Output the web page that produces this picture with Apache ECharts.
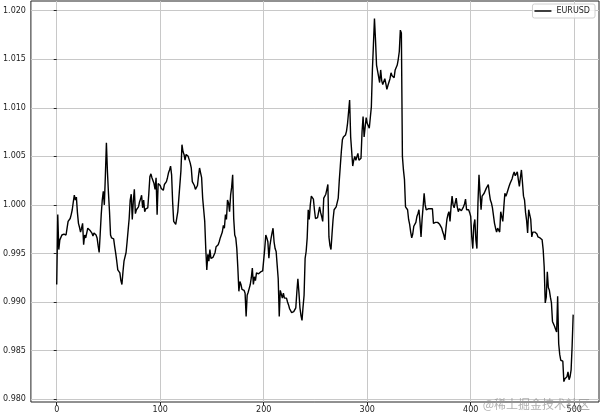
<!DOCTYPE html>
<html>
<head>
<meta charset="utf-8">
<script src="https://cdn.jsdelivr.net/npm/echarts@6/dist/echarts.min.js"></script>
<style>html,body{margin:0;padding:0;background:#fff}#c{width:600px;height:414px}</style>
</head>
<body>
<div id="c"></div>
<script>
const seriesName = 'EURUSD';
const eurusd = [
0.9918,0.9990,0.9954,0.9964,0.9962,0.9969,0.9967,0.9970,0.9971,0.9969,
0.9976,0.9983,0.9984,0.9986,0.9990,0.9995,1.0003,1.0010,1.0005,1.0008,
0.9992,0.9981,0.9977,0.9972,0.9976,0.9981,0.9959,0.9969,0.9966,0.9964,
0.9976,0.9975,0.9974,0.9973,0.9971,0.9968,0.9971,0.9970,0.9969,0.9966,
0.9958,0.9951,0.9970,0.9990,1.0005,1.0014,1.0000,1.0030,1.0064,1.0034,
1.0012,0.9993,0.9969,0.9966,0.9964,0.9965,0.9957,0.9950,0.9942,0.9933,
0.9932,0.9930,0.9922,0.9918,0.9931,0.9942,0.9940,0.9951,0.9962,0.9974,
0.9986,1.0005,1.0011,0.9985,1.0004,1.0016,0.9991,0.9995,0.9996,0.9998,
1.0003,1.0006,1.0010,0.9997,1.0005,0.9993,0.9996,0.9995,0.9997,1.0012,
1.0029,1.0032,1.0028,1.0030,1.0022,1.0016,1.0028,0.9990,1.0022,1.0021,
1.0020,1.0017,1.0016,1.0015,1.0021,1.0022,1.0024,1.0028,1.0033,1.0036,
1.0040,1.0031,1.0003,0.9983,0.9981,0.9980,0.9980,0.9993,1.0007,1.0008,
1.0035,1.0062,1.0055,1.0052,1.0046,1.0052,1.0053,1.0050,1.0048,1.0043,
1.0038,1.0024,1.0024,1.0020,1.0016,1.0018,1.0020,1.0030,1.0038,1.0033,
1.0028,1.0007,0.9995,0.9983,0.9955,0.9933,0.9949,0.9942,0.9954,0.9945,
0.9945,0.9946,0.9946,0.9951,0.9957,0.9958,0.9959,0.9962,0.9966,0.9969,
0.9972,0.9979,0.9976,0.9990,0.9985,1.0005,1.0002,0.9993,1.0010,1.0018,
1.0031,0.9986,0.9969,0.9966,0.9955,0.9935,0.9911,0.9921,0.9918,0.9913,
0.9915,0.9912,0.9909,0.9885,0.9907,0.9910,0.9914,0.9918,0.9925,0.9935,
0.9918,0.9926,0.9922,0.9930,0.9930,0.9929,0.9931,0.9931,0.9931,0.9932,
0.9932,0.9955,0.9969,0.9966,0.9962,0.9945,0.9958,0.9965,0.9971,0.9976,
0.9962,0.9955,0.9952,0.9938,0.9924,0.9885,0.9912,0.9908,0.9904,0.9909,
0.9904,0.9906,0.9904,0.9900,0.9897,0.9893,0.9891,0.9889,0.9887,0.9890,
0.9892,0.9894,0.9910,0.9924,0.9910,0.9894,0.9886,0.9881,0.9895,0.9907,
0.9945,0.9952,0.9966,0.9995,0.9985,1.0000,1.0009,1.0007,1.0006,0.9995,
0.9986,0.9986,0.9987,0.9987,0.9998,0.9992,0.9988,0.9983,1.0007,1.0009,
1.0011,1.0016,1.0021,0.9967,0.9958,0.9954,0.9970,0.9985,0.9995,0.9997,
0.9998,0.9998,1.0007,1.0025,1.0040,1.0055,1.0067,1.0070,1.0071,1.0072,
1.0076,1.0084,1.0096,1.0108,1.0070,1.0055,1.0040,1.0046,1.0050,1.0046,
1.0045,1.0053,1.0046,1.0047,1.0048,1.0075,1.0091,1.0070,1.0080,1.0090,
1.0084,1.0082,1.0079,1.0090,1.0101,1.0139,1.0165,1.0192,1.0170,1.0144,
1.0143,1.0132,1.0126,1.0139,1.0128,1.0124,1.0122,1.0130,1.0125,1.0119,
1.0123,1.0125,1.0130,1.0136,1.0133,1.0132,1.0131,1.0139,1.0141,1.0144,
1.0150,1.0158,1.0180,1.0177,1.0050,1.0036,1.0026,0.9998,0.9999,0.9995,
0.9985,0.9980,0.9972,0.9966,0.9970,0.9978,0.9978,0.9982,0.9988,0.9991,
0.9995,0.9982,0.9967,0.9985,0.9998,1.0012,1.0000,0.9995,0.9997,0.9996,
0.9995,0.9996,0.9995,0.9996,0.9981,0.9983,0.9982,0.9981,0.9982,0.9983,
0.9980,0.9979,0.9976,0.9972,0.9969,0.9964,0.9975,0.9985,0.9990,0.9993,
0.9983,0.9998,1.0009,1.0000,0.9997,1.0002,1.0007,0.9998,0.9993,0.9996,
0.9995,0.9994,0.9993,0.9998,1.0001,1.0006,0.9995,0.9997,0.9995,0.9992,
0.9988,0.9967,0.9955,0.9979,0.9985,0.9964,0.9955,1.0002,1.0031,1.0012,
0.9995,1.0009,1.0011,1.0012,1.0014,1.0017,1.0019,1.0021,1.0012,1.0005,
1.0002,0.9997,0.9995,0.9981,0.9976,0.9972,0.9976,0.9978,0.9972,0.9993,
0.9988,0.9983,0.9998,1.0012,1.0009,1.0012,1.0014,1.0019,1.0022,1.0024,
1.0027,1.0031,1.0034,1.0030,1.0031,1.0034,1.0026,1.0019,1.0028,1.0036,
1.0023,1.0009,1.0005,0.9992,0.9984,0.9971,0.9995,0.9990,0.9985,0.9967,
0.9972,0.9974,0.9972,0.9973,0.9970,0.9967,0.9966,0.9966,0.9966,0.9964,
0.9954,0.9936,0.9899,0.9905,0.9931,0.9915,0.9912,0.9905,0.9899,0.9880,
0.9878,0.9875,0.9872,0.9869,0.9906,0.9857,0.9846,0.9840,0.9840,0.9839,
0.9818,0.9821,0.9822,0.9823,0.9828,0.9820,0.9823,0.9830,0.9855,0.9887
];
const xTickValues = [0, 100, 200, 300, 400, 500];
const yTickValues = [0.980, 0.985, 0.990, 0.995, 1.000, 1.005, 1.010, 1.015, 1.020];

const data = eurusd.map((v, i) => [i, v]);
const font = 'DejaVu Sans';
const chart = echarts.init(document.getElementById('c'), null, {renderer: 'canvas'});
chart.setOption({
  animation: false,
  backgroundColor: '#fff',
  grid: {left: 29, right: 1, top: 1, bottom: 12, show: true, borderColor: '#222', borderWidth: 1, backgroundColor: 'transparent'},
  legend: {
    right: 5, top: 4, data: [{name: seriesName, icon: 'rect'}],
    itemWidth: 17, itemHeight: 1.5,
    padding: [3, 5, 3, 2],
    borderColor: '#d0d0d0', borderWidth: 1, borderRadius: 2,
    backgroundColor: 'rgba(255,255,255,0.8)',
    textStyle: {fontFamily: font, fontSize: 8, color: '#222'}
  },
  xAxis: {
    type: 'value', min: -24.95, max: 523.95,
    axisLine: {show: false},
    axisTick: {show: true, length: 3, lineStyle: {color: '#222'}, customValues: xTickValues},
    axisLabel: {fontFamily: font, fontSize: 8, color: '#222', margin: 4, customValues: xTickValues, formatter: v => String(Math.round(v))},
    splitLine: {show: true, lineStyle: {color: '#c8c8c8', width: 1}}
  },
  yAxis: {
    type: 'value', min: 0.9797, max: 1.0210,
    axisLine: {show: false},
    axisTick: {show: true, length: 3, lineStyle: {color: '#222'}, customValues: yTickValues},
    axisLabel: {fontFamily: font, fontSize: 8, color: '#222', margin: 5, customValues: yTickValues, formatter: v => v.toFixed(3)},
    splitLine: {show: true, lineStyle: {color: '#c8c8c8', width: 1}}
  },
  graphic: [{
    type: 'text', right: 10, bottom: 4, z: 100,
    style: {text: '@稀土掘金技术社区', fontFamily: 'Noto Sans CJK SC', fontSize: 12, fill: 'rgba(150,150,150,0.75)'}
  }],
  series: [{
    name: seriesName, type: 'line', data: data, showSymbol: false, symbol: 'none',
    lineStyle: {color: '#000', width: 1.4}, itemStyle: {color: '#000'}
  }]
});
</script>
</body>
</html>
